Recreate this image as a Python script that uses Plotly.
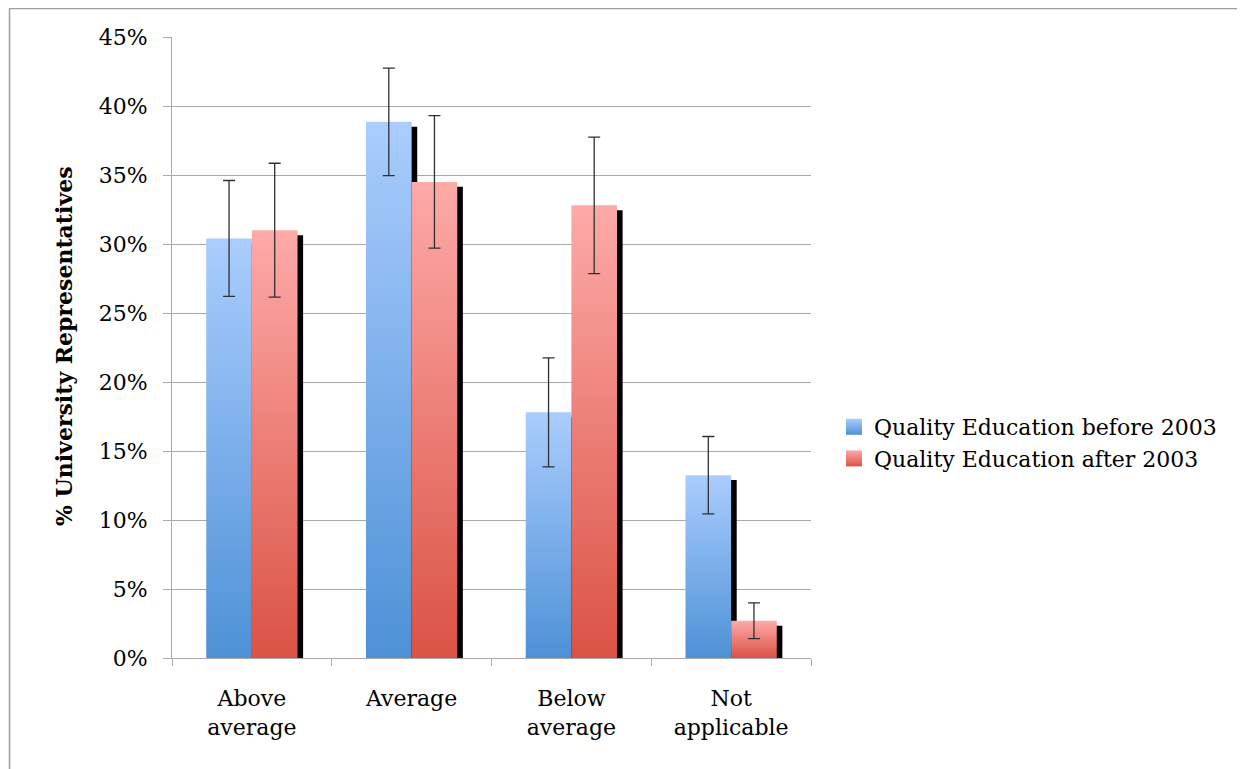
import plotly.graph_objects as go

# ---- data ----
categories = ["Above<br>average", "Average", "Below<br>average", "Not<br>applicable"]
series_names = ["Quality Education before 2003", "Quality Education after 2003"]
before_2003 = [30.4, 38.85, 17.8, 13.25]
after_2003 = [31.0, 34.5, 32.8, 2.7]
before_err = [4.2, 3.9, 3.95, 2.8]
after_err = [4.85, 4.8, 4.95, 1.3]
y_ticks = [0, 5, 10, 15, 20, 25, 30, 35, 40, 45]

# ---- styles ----
FONT = "DejaVu Serif"
BLUE_TOP, BLUE_BOT = "#aacdfe", "#4d91d6"
RED_TOP, RED_BOT = "#fdaaa8", "#da5344"
GRID = "#a9a9a9"
BAR_W = 1 / 3.5
SH_DX, SH_DY = 0.035, 0.36

series = [
    (series_names[0], before_2003, before_err, BLUE_TOP, BLUE_BOT),
    (series_names[1], after_2003, after_err, RED_TOP, RED_BOT),
]
xpos = list(range(len(categories)))

fig = go.Figure()

for s, (name, vals, errs, ctop, cbot) in enumerate(series):
    # shadows
    for i, v in zip(xpos, vals):
        l = i - BAR_W + s * BAR_W + SH_DX
        r = l + BAR_W
        top = max(v - SH_DY, 0)
        fig.add_trace(go.Scatter(
            x=[l, r, r, l, l], y=[0, 0, top, top, 0], mode="lines",
            fill="toself", fillcolor="black",
            line=dict(width=0, color="rgba(0,0,0,0)"),
            showlegend=False, hoverinfo="skip"))
    # bars
    for i, v in zip(xpos, vals):
        l = i - BAR_W + s * BAR_W
        r = l + BAR_W
        fig.add_trace(go.Scatter(
            x=[l, r, r, l, l], y=[0, 0, v, v, 0], mode="lines",
            fill="toself",
            fillgradient=dict(type="vertical", colorscale=[[0, cbot], [1, ctop]],
                              start=0, stop=v),
            line=dict(width=0, color="rgba(0,0,0,0)"),
            showlegend=False, hoverinfo="skip"))

# error bars
for s, (name, vals, errs, ctop, cbot) in enumerate(series):
    centers = [i - BAR_W / 2 + s * BAR_W for i in xpos]
    fig.add_trace(go.Scatter(
        x=centers, y=vals, mode="markers",
        marker=dict(size=1, color="rgba(0,0,0,0)"),
        error_y=dict(type="data", array=errs, visible=True,
                     color="#303030", thickness=1.3, width=6),
        showlegend=False, hoverinfo="skip"))

# legend entries
for name, vals, errs, ctop, cbot in series:
    fig.add_trace(go.Scatter(
        x=[None], y=[None], mode="markers", name=name,
        marker=dict(symbol="square", size=16, color=ctop,
                    gradient=dict(type="vertical", color=cbot),
                    line=dict(width=0))))

# page offset (body margin) = 8 px
OFF = 8
W, H = 1245 - OFF, 769 - OFF
L, R, T, B = 172 - OFF, 811 - OFF, 37 - OFF, 658 - OFF
pw, ph = R - L, B - T


def px_x(x):
    return (x - OFF - L) / pw


def px_y(y):
    return (B - (y - OFF)) / ph


fig.update_layout(
    width=W, height=H,
    margin=dict(l=L, r=W - R, t=T, b=H - B, autoexpand=False),
    paper_bgcolor="white", plot_bgcolor="white",
    font=dict(family=FONT, size=22, color="black"),
    showlegend=True,
    legend=dict(x=px_x(834), y=px_y(443), xanchor="left", yanchor="middle",
                font=dict(family=FONT, size=22, color="black"),
                bgcolor="rgba(0,0,0,0)", tracegroupgap=0),
    xaxis=dict(
        range=[-0.5, 3.5], tickvals=xpos, ticktext=categories, ticks="",
        showgrid=False, zeroline=False, showline=True, linecolor=GRID, linewidth=1,
        minor=dict(tickvals=[-0.5, 0.5, 1.5, 2.5, 3.5], ticks="outside",
                   ticklen=7, tickcolor=GRID, showgrid=False),
        ticklabelstandoff=21,
        tickfont=dict(family=FONT, size=22), fixedrange=True),
    yaxis=dict(
        range=[0, 45], tickvals=y_ticks, ticktext=[f"{t}%" for t in y_ticks],
        showgrid=True, gridcolor=GRID, gridwidth=1, zeroline=False,
        showline=True, linecolor=GRID, linewidth=1,
        ticks="outside", ticklen=8, tickcolor=GRID,
        ticklabelstandoff=11,
        tickfont=dict(family=FONT, size=22), fixedrange=True),
    annotations=[dict(
        text="<b>% University Representatives</b>", textangle=-90,
        xref="paper", yref="paper", x=px_x(64), y=px_y(346),
        xanchor="center", yanchor="middle", showarrow=False,
        font=dict(family=FONT, size=22, color="black"))],
    shapes=[
        dict(type="line", xref="paper", yref="paper",
             x0=px_x(9), x1=px_x(1250), y0=px_y(8.5), y1=px_y(8.5),
             line=dict(color="#9f9f9f", width=1.5)),
        dict(type="line", xref="paper", yref="paper",
             x0=px_x(9.5), x1=px_x(9.5), y0=px_y(8.5), y1=px_y(775),
             line=dict(color="#9f9f9f", width=1.5)),
    ],
)

fig.write_html("out.html")
